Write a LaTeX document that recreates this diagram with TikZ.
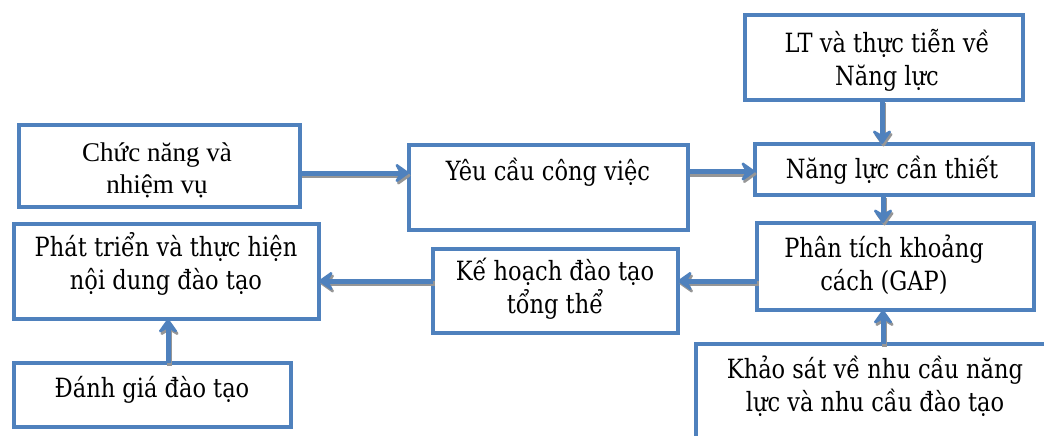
\documentclass[tikz,border=0pt]{standalone}
\usepackage{fontspec}
\setmainfont{DejaVu Serif}[FakeStretch=0.85]
\newfontfamily\timesf{Liberation Serif}
\usetikzlibrary{arrows.meta}
\definecolor{bl}{RGB}{79,129,189}
\definecolor{sh}{RGB}{150,150,150}
\begin{document}
\begin{tikzpicture}[x=1pt,y=-1pt,
 box/.style={draw=bl, line width=4.5pt, fill=white, inner sep=0pt, outer sep=0pt},
 txt/.style={font=\fontsize{26.5}{33}\selectfont, align=center, inner sep=0pt},
 ttxt/.style={font=\timesf\fontsize{27}{32}\selectfont, align=center, inner sep=0pt},
 arr/.style={draw=bl, line width=5pt, -{Stealth[length=17pt,width=24pt,inset=7pt,round]},
   preaction={draw=sh, line width=5pt, transform canvas={shift={(1.5pt,-2.5pt)}}}}
]
\useasboundingbox (0,0) rectangle (1044,436);
\fill[white] (0,0) rectangle (1044,436);
% boxes
\node[box, minimum width=278pt, minimum height=85pt] (lt) at (884,57.5) {};
\node[box, minimum width=278pt, minimum height=51pt] (nang) at (894,169.5) {};
\node[box, minimum width=277pt, minimum height=87pt] (phan) at (895.5,266.5) {};
\node[box, minimum width=404pt, minimum height=126pt] (khao) at (898,407) {};
\node[box, minimum width=279pt, minimum height=85pt] (yeu) at (548.5,187.5) {};
\node[box, minimum width=281pt, minimum height=82pt] (chuc) at (159.5,166) {};
\node[box, minimum width=305pt, minimum height=95pt] (phat) at (166.5,271.5) {};
\node[box, minimum width=245pt, minimum height=84pt] (ke) at (555.5,291) {};
\node[box, minimum width=277pt, minimum height=64pt] (danh) at (152.5,395) {};
% texts
\node[txt] (tlt) at (887,60) {LT và thực tiễn về\\Năng lực};
\node[txt] (tnang) at (892,170) {Năng lực cần thiết};
\node[txt] (tphan) at (884,265) {Phân tích khoảng\\cách (GAP)};
\node[txt] (tkhao) at (875,386) {Khảo sát về nhu cầu năng\\lực và nhu cầu đào tạo};
\node[txt] (tyeu) at (548,172) {Yêu cầu công việc};
\node[ttxt] (tchuc) at (157,170) {Chức năng và\\nhiệm vụ};
\node[txt] (tphat) at (166,264) {Phát triển và thực hiện\\nội dung đào tạo};
\node[txt] (tke) at (555,289) {Kế hoạch đào tạo\\tổng thể};
\node[txt] (tdanh) at (152,390) {Đánh giá đào tạo};
% arrows
\draw[arr] ([yshift=-7pt]chuc.east) -- ([yshift=14.5pt]yeu.west);
\draw[arr] ([yshift=-2pt]yeu.east |- nang.west) -- ([yshift=-2pt]nang.west);
\draw[arr] ([xshift=-2pt]lt.south) -- ([xshift=-2pt]lt.south |- nang.north);
\draw[arr] ([xshift=-11pt]nang.south) -- ([xshift=-11pt]nang.south |- phan.north);
\draw[arr] ([yshift=-14.5pt]phan.west) -- ([yshift=-14.5pt]phan.west -| ke.east);
\draw[arr] ([yshift=10pt]ke.west) -- ([yshift=10pt]ke.west -| phat.east);
\draw[arr] ([xshift=15.5pt]danh.north) -- ([xshift=15.5pt]danh.north |- phat.south);
\draw[arr] ([xshift=-15pt]khao.north) -- ([xshift=-15pt]khao.north |- phan.south);
\end{tikzpicture}
\end{document}
